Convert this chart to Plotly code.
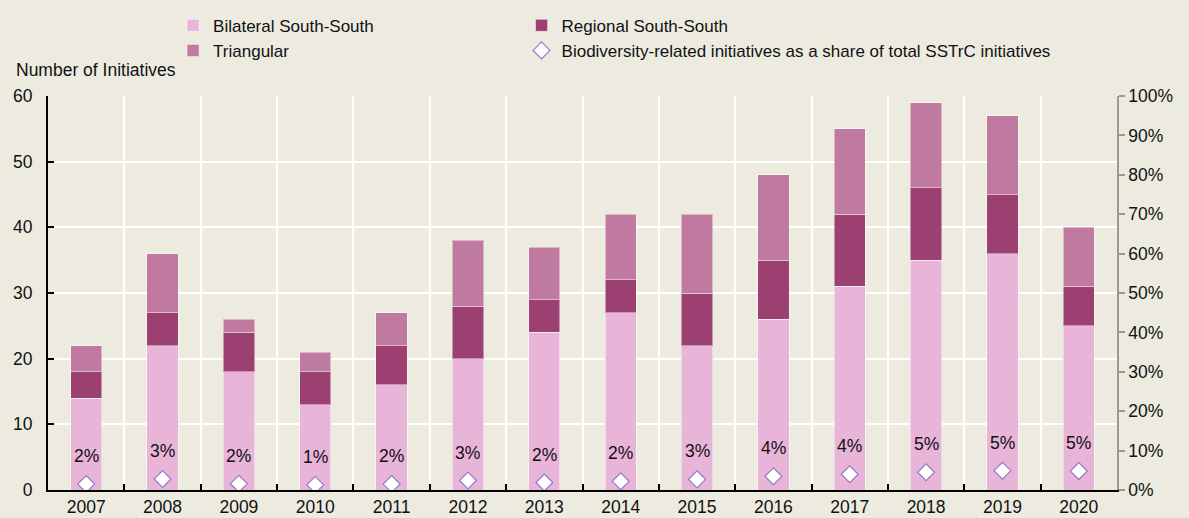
import plotly.graph_objects as go

years = ["2007", "2008", "2009", "2010", "2011", "2012", "2013",
         "2014", "2015", "2016", "2017", "2018", "2019", "2020"]
bilateral = [14, 22, 18, 13, 16, 20, 24, 27, 22, 26, 31, 35, 36, 25]
regional = [4, 5, 6, 5, 6, 8, 5, 5, 8, 9, 11, 11, 9, 6]
triangular = [4, 9, 2, 3, 5, 10, 8, 10, 12, 13, 13, 13, 12, 9]
share_pct = [1.5, 2.8, 1.6, 1.3, 1.5, 2.4, 1.9, 2.2, 2.7, 3.5, 4.0, 4.5, 4.9, 4.8]
share_labels = ["2%", "3%", "2%", "1%", "2%", "3%", "2%",
                "2%", "3%", "4%", "4%", "5%", "5%", "5%"]

C_BIL = "#E8B4D8"
C_REG = "#9B4071"
C_TRI = "#C17A9F"
C_DIA = "#8E7CC3"
BG = "#EDEBE0"
FONT = "Liberation Sans, Arial, sans-serif"
FS = 17.5
FS_LEG = 17

fig = go.Figure()
bar_line = dict(color="rgba(255,255,255,0.45)", width=1)
fig.add_trace(go.Bar(x=years, y=bilateral, name="Bilateral South-South",
                     marker=dict(color=C_BIL, line=bar_line), legend="legend"))
fig.add_trace(go.Bar(x=years, y=regional, name="Regional South-South",
                     marker=dict(color=C_REG, line=bar_line), legend="legend2"))
fig.add_trace(go.Bar(x=years, y=triangular, name="Triangular",
                     marker=dict(color=C_TRI, line=bar_line), legend="legend"))
fig.add_trace(go.Scatter(x=years, y=share_pct, yaxis="y2", mode="markers",
                         name="Biodiversity-related initiatives as a share of total SSTrC initiatives",
                         marker=dict(symbol="diamond", size=13, color="white",
                                     line=dict(color=C_DIA, width=1.2)),
                         legend="legend2"))

for i, (v, lab) in enumerate(zip(share_pct, share_labels)):
    fig.add_annotation(x=i, xref="x", y=v, yref="y2", text=lab, showarrow=False,
                       yshift=28, yanchor="middle",
                       font=dict(size=FS, color="#111", family=FONT))

fig.add_annotation(xref="paper", yref="paper", x=-0.032, y=1.066,
                   text="Number of Initiatives", showarrow=False,
                   xanchor="left", yanchor="middle",
                   font=dict(size=FS, color="#111", family=FONT))

fig.update_layout(
    barmode="stack",
    bargap=0.59,
    width=1189, height=518,
    margin=dict(l=48, r=72, t=96, b=28, autoexpand=False),
    paper_bgcolor=BG, plot_bgcolor=BG,
    font=dict(family=FONT, size=FS, color="#111"),
    legend=dict(x=0.117, y=1.224, xanchor="left", yanchor="top",
                bgcolor="rgba(0,0,0,0)", traceorder="normal",
                font=dict(size=FS_LEG), tracegroupgap=0, itemwidth=30),
    legend2=dict(x=0.443, y=1.224, xanchor="left", yanchor="top",
                 bgcolor="rgba(0,0,0,0)", traceorder="normal",
                 font=dict(size=FS_LEG), tracegroupgap=0, itemwidth=30),
    xaxis=dict(type="category", range=[-0.5, 13.5], tickson="boundaries",
               showgrid=True, gridcolor="white", gridwidth=1.5,
               showline=True, linecolor="black", linewidth=2,
               ticks="inside", ticklen=6, tickwidth=2, tickcolor="black",
               tickfont=dict(size=FS), tickangle=0, automargin=False),
    yaxis=dict(range=[0, 60], dtick=10, showgrid=True, gridcolor="white",
               gridwidth=1.5, zeroline=False,
               showline=True, linecolor="black", linewidth=2,
               ticks="inside", ticklen=6, tickwidth=2, tickcolor="black",
               tickfont=dict(size=FS), ticklabelstandoff=10, automargin=False),
    yaxis2=dict(range=[0, 100], dtick=10, overlaying="y", side="right",
                showgrid=False, zeroline=False, ticksuffix="%",
                showline=True, linecolor="#999", linewidth=1.5,
                ticks="outside", ticklen=6, tickwidth=1.5, tickcolor="#999",
                tickfont=dict(size=FS), automargin=False),
)

fig.write_html(
    "out.html",
    config={"displayModeBar": False},
    post_script="document.body.style.margin='0';document.body.style.background='%s';" % BG,
)
